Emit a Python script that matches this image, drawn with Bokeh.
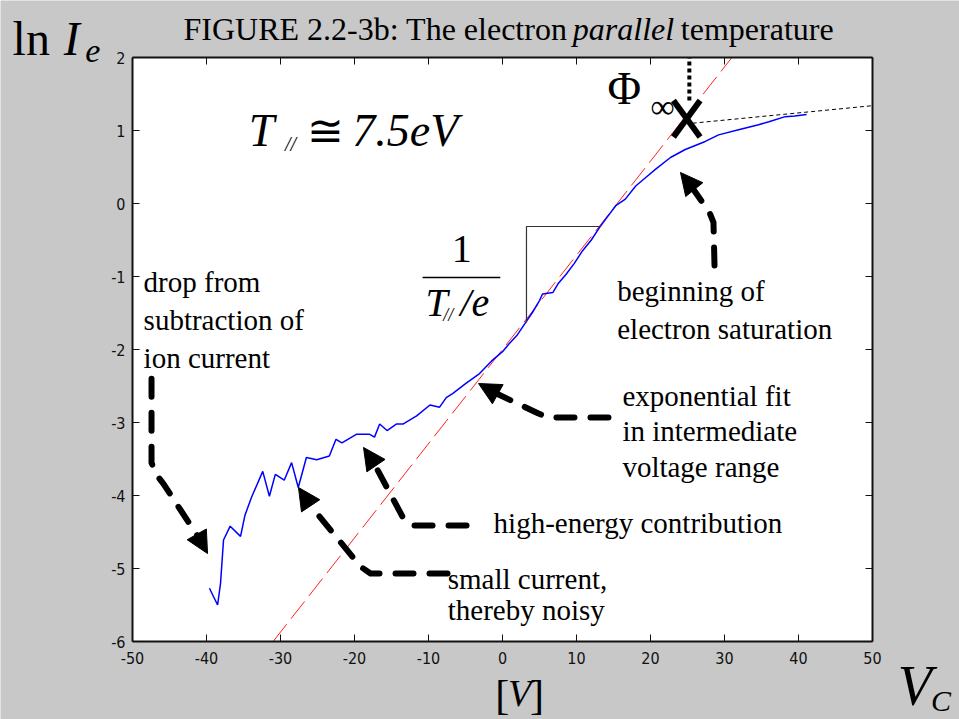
from bokeh.plotting import figure
from bokeh.models import (Range1d, LinearAxis, FixedTicker, Label, Arrow, NormalHead,
                          BoxAnnotation)
from bokeh.embed import file_html
from bokeh.resources import INLINE

# ---------------- data ----------------
volts = [-39.6, -38.5, -38.1, -37.7, -36.8, -35.4, -34.8, -33.9, -32.4, -31.5,
         -30.7, -29.5, -28.5, -27.6, -26.5, -25.1, -23.4, -22.5, -21.7, -19.7,
         -18.0, -17.3, -16.6, -15.6, -14.3, -13.4, -11.6, -9.8, -8.5, -7.6,
         -6.7, -4.9, -3.1, -1.5, 0.0, 0.9, 2.0, 3.0, 4.0, 5.0,
         5.4, 6.8, 7.5, 8.6, 9.7, 10.8, 12.0, 13.1, 14.2, 15.3,
         16.6, 18.0, 19.4, 20.7, 22.7, 24.7, 27.4, 29.2, 31.9, 34.6,
         36.0, 38.2, 39.5, 41.1]
ln_ie = [-5.27, -5.50, -5.20, -4.61, -4.42, -4.56, -4.27, -4.02, -3.67, -4.01,
         -3.71, -3.79, -3.55, -3.89, -3.48, -3.51, -3.46, -3.23, -3.28, -3.16,
         -3.16, -3.20, -3.02, -3.11, -3.02, -3.02, -2.91, -2.76, -2.79, -2.66,
         -2.60, -2.46, -2.33, -2.16, -2.03, -1.92, -1.80, -1.65, -1.50, -1.33,
         -1.24, -1.22, -1.10, -0.97, -0.82, -0.65, -0.50, -0.33, -0.18, -0.03,
         0.06, 0.24, 0.36, 0.47, 0.63, 0.74, 0.85, 0.94, 1.01, 1.08,
         1.12, 1.19, 1.20, 1.22]

fit_v = [-31.0, 31.0]          # exponential fit (red dashed)
fit_ln = [-6.0, 2.0]
sat_v = [25.7, 50.0]           # saturation asymptote (thin dashed)
sat_ln = [1.10, 1.34]
phi_v = 24.9                   # plasma potential marker
phi_ln = 1.16

x_ticks = [-50, -40, -30, -20, -10, 0, 10, 20, 30, 40, 50]
y_ticks = [-6, -5, -4, -3, -2, -1, 0, 1, 2]

SERIF = "Liberation Serif"
TICKFONT = "'Liberation Sans Narrow', 'DejaVu Sans Condensed', 'Liberation Sans', sans-serif"

# ---------------- layout: data box inside the full canvas ----------------
W, H = 959, 719
BOX_L, BOX_R, BOX_T, BOX_B = 132, 872, 57, 641
XMIN, XMAX = x_ticks[0], x_ticks[-1]
YMIN, YMAX = y_ticks[0], y_ticks[-1]
xpx = (BOX_R - BOX_L) / (XMAX - XMIN)
ypx = (BOX_B - BOX_T) / (YMAX - YMIN)
x_range = Range1d(XMIN - BOX_L / xpx, XMAX + (W - BOX_R) / xpx)
y_range = Range1d(YMIN - (H - BOX_B) / ypx, YMAX + BOX_T / ypx)

p = figure(width=W, height=H, x_range=x_range, y_range=y_range,
           output_backend="svg", toolbar_location=None, min_border=0,
           x_axis_location=None, y_axis_location=None,
           background_fill_color="#c8c8c8", border_fill_color="#c8c8c8",
           outline_line_color=None)
p.grid.visible = False

p.add_layout(BoxAnnotation(left=XMIN, right=XMAX, bottom=YMIN, top=YMAX,
                           fill_color="white", fill_alpha=1.0, line_color=None,
                           level="underlay"))


def style_axis(ax, show):
    ax.major_tick_in = 7
    ax.major_tick_out = 0
    ax.minor_tick_line_color = None
    ax.axis_line_color = "#111111"
    ax.axis_line_width = 2
    ax.major_tick_line_color = "#111111"
    ax.major_tick_line_width = 1
    ax.major_label_text_font = TICKFONT
    ax.major_label_text_font_size = "16px"
    ax.major_label_text_color = "#111111" if show else None


ax_b = LinearAxis(ticker=FixedTicker(ticks=x_ticks), fixed_location=YMIN,
                  bounds=(XMIN, XMAX),
                  major_label_overrides={t: str(t) for t in x_ticks})
ax_t = LinearAxis(ticker=FixedTicker(ticks=x_ticks), fixed_location=YMAX,
                  bounds=(XMIN, XMAX))
ax_l = LinearAxis(ticker=FixedTicker(ticks=y_ticks), fixed_location=XMIN,
                  bounds=(YMIN, YMAX),
                  major_label_overrides={t: str(t) for t in y_ticks})
ax_r = LinearAxis(ticker=FixedTicker(ticks=y_ticks), fixed_location=XMAX,
                  bounds=(YMIN, YMAX))
style_axis(ax_b, True)
style_axis(ax_l, True)
style_axis(ax_t, False)
style_axis(ax_r, False)
ax_b.major_label_standoff = 10
ax_l.major_label_standoff = 7
p.add_layout(ax_b, "below")
p.add_layout(ax_t, "above")
p.add_layout(ax_l, "left")
p.add_layout(ax_r, "right")

# ---------------- data curves ----------------
p.line(fit_v, fit_ln, line_color="#ff2020", line_width=1, line_dash="22 7")
p.line(volts, ln_ie, line_color="#0000ff", line_width=1.5)
p.line(sat_v, sat_ln, line_color="black", line_width=1, line_dash="4 3")
p.line([phi_v + 0.35, phi_v + 0.35], [phi_ln + 0.25, YMAX], line_color="black",
       line_width=4, line_dash="4 3")
p.segment(x0=[phi_v - 1.8, phi_v - 1.8], y0=[phi_ln - 0.25, phi_ln + 0.25],
          x1=[phi_v + 1.8, phi_v + 1.8], y1=[phi_ln + 0.25, phi_ln - 0.25],
          line_color="black", line_width=6)

# slope triangle
p.line([3.24, 3.24, 13.24], [-1.63, -0.315, -0.315], line_color="#333333", line_width=1.2)
# fraction bar
p.line([-10.8, -0.3], [-1.014, -1.014], line_color="black", line_width=1.5)


def lab(x, y, text, size, style="normal", align="left", font=SERIF):
    # y is the intended alphabetic baseline; shift to compensate renderer descent
    yy = y + 0.22 * size / ypx
    p.add_layout(Label(x=x, y=yy, text=text, text_font=font, text_font_size=f"{size}px",
                       text_font_style=style, text_align=align, text_baseline="alphabetic",
                       text_color="black"))


# title (mixed style)
lab(-43.1, 2.30, "FIGURE 2.2-3b: The electron", 32)
lab(9.5, 2.30, "parallel", 32, "italic")
lab(24.1, 2.30, "temperature", 32)

# axis titles
lab(-66.2, 2.11, "ln", 48)
lab(-59.3, 2.11, "I", 48, "italic")
lab(-56.4, 1.99, "e", 34, "italic")
lab(0.9, -6.86, "[", 42, align="right")
lab(2.3, -6.82, "V", 38, "italic", align="center")
lab(3.7, -6.86, "]", 42, align="left")
lab(53.4, -6.78, "V", 56, "italic")
lab(57.9, -6.90, "C", 30, "italic")

# T// = 7.5 eV
lab(-34.3, 0.86, "T", 46, "italic")
lab(-29.4, 0.75, "//", 20, "italic")
lab(-26.4, 0.86, "\u2245", 44)
lab(-20.3, 0.86, "7.5eV", 46, "italic")

# Phi infinity
lab(14.2, 1.44, "\u03a6", 46)
lab(20.0, 1.22, "\u221e", 34)

# fraction 1/(T///e)
lab(-5.5, -0.74, "1", 40, align="center")
lab(-10.4, -1.48, "T", 40, "italic")
lab(-8.0, -1.58, "//", 18, "italic")
lab(-5.7, -1.48, "/e", 40, "italic")

# annotation texts
for i, t in enumerate(["drop from", "subtraction of", "ion current"]):
    lab(-48.5, [-1.16, -1.68, -2.20][i], t, 29)
for i, t in enumerate(["beginning of", "electron saturation"]):
    lab(15.5, [-1.29, -1.80][i], t, 29)
for i, t in enumerate(["exponential fit", "in intermediate", "voltage range"]):
    lab(16.2, [-2.72, -3.20, -3.70][i], t, 29)
lab(-1.2, -4.46, "high-energy contribution", 29)
lab(-7.4, -5.23, "small current,", 29)
lab(-7.4, -5.66, "thereby noisy", 29)

# dashed arrows
arrows = [
    ([-47.43, -47.43, -46.89, -45.81, -41.08], [-2.40, -3.55, -3.70, -3.84, -4.575], (-39.86, -4.795)),
    ([-7.43, -17.84, -19.19, -25.95], [-5.068, -5.068, -4.973, -4.137], (-27.57, -3.890)),
    ([-4.86, -12.16, -13.38, -17.57], [-4.411, -4.411, -4.315, -3.521], (-18.78, -3.342)),
    ([14.32, 6.22, 4.86, -0.81], [-2.932, -2.932, -2.877, -2.603], (-3.24, -2.466)),
    ([28.65, 28.51, 27.97, 25.14], [-0.849, -0.260, -0.123, 0.288], (24.05, 0.425)),
]
for xs, ys, tip in arrows:
    p.line(xs, ys, line_color="black", line_width=6, line_dash="18 16", line_cap="round",
           line_join="round")
    p.add_layout(Arrow(end=NormalHead(size=22, fill_color="black", line_color="black"),
                       x_start=xs[-1], y_start=ys[-1], x_end=tip[0], y_end=tip[1],
                       line_alpha=0))

open("out.html", "w").write(file_html(p, INLINE))
